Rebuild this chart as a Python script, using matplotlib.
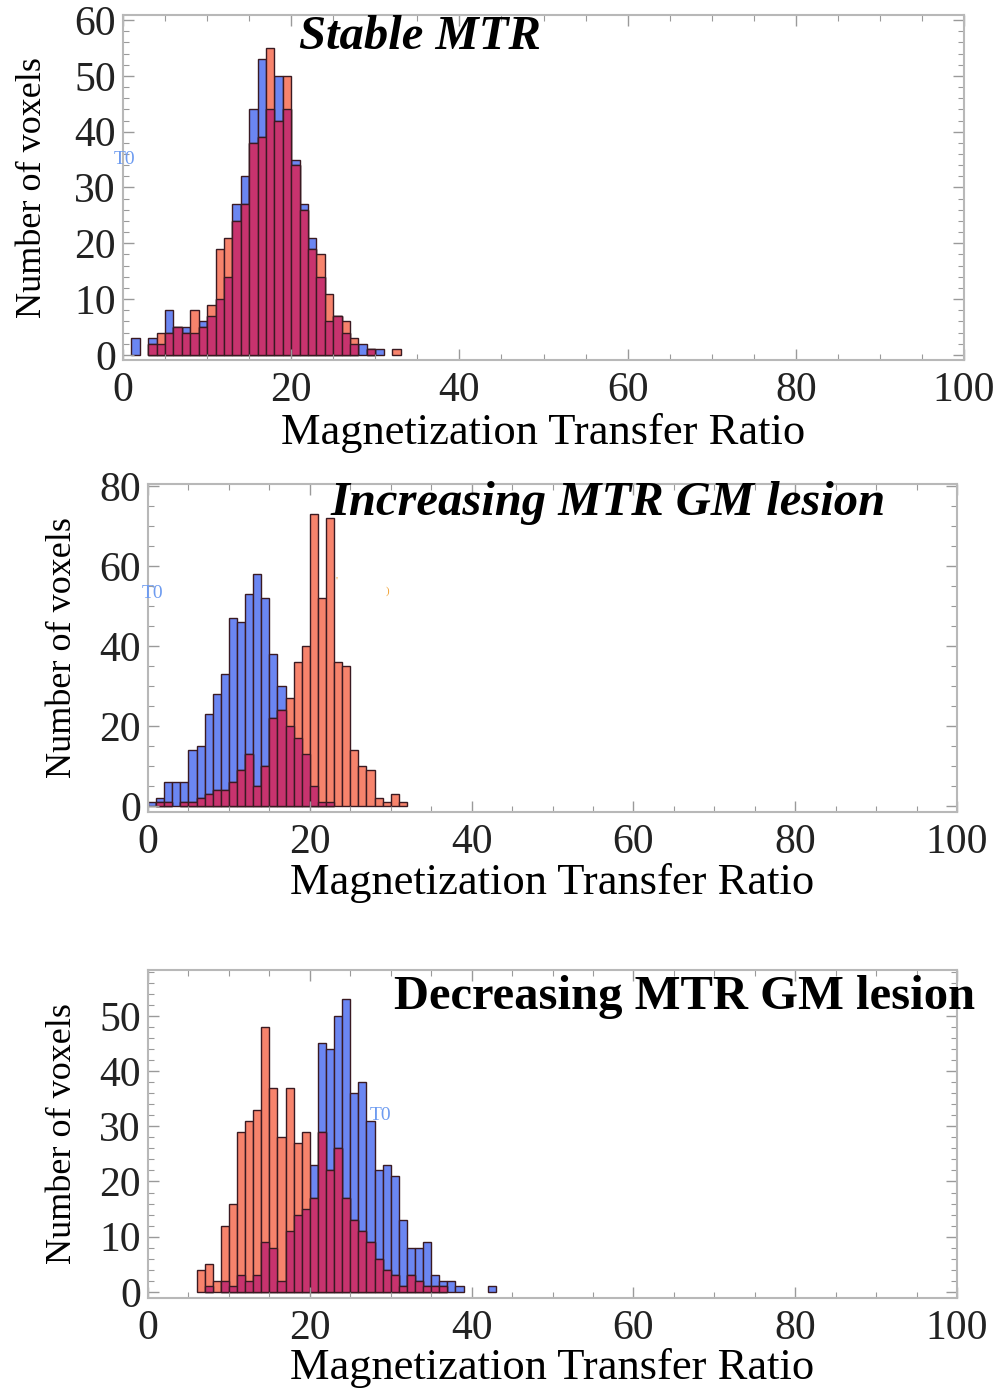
import matplotlib
matplotlib.use("Agg")
import matplotlib.pyplot as plt
from matplotlib.ticker import MultipleLocator
import numpy as np

plt.rcParams["font.family"] = ["Liberation Serif", "DejaVu Serif"]

# histogram counts, one bin per MTR unit, starting at bin 0
stable_t0 = [0, 3, 0, 3, 2, 8, 5, 5, 4, 6, 7, 10, 14, 27, 32, 44, 53, 44, 50, 44,
             35, 27, 21, 14, 6, 7, 4, 2, 2, 1, 1, 0, 0]
stable_t1 = [0, 0, 0, 2, 4, 4, 5, 4, 8, 5, 9, 19, 21, 24, 27, 38, 39, 55, 42, 50,
             34, 26, 19, 18, 11, 7, 6, 3, 0, 1, 0, 0, 1]

incr_t0 = [1, 2, 6, 6, 6, 14, 15, 23, 28, 33, 47, 46, 53, 58, 52, 38, 30, 20, 17, 13,
           5, 1, 1, 0, 0, 0, 0, 0, 0, 0, 0, 0]
incr_t1 = [0, 1, 1, 0, 1, 1, 2, 3, 4, 4, 6, 9, 13, 5, 10, 22, 24, 27, 36, 40,
           73, 52, 72, 36, 35, 14, 10, 9, 2, 1, 3, 1]

decr_t0 = [0, 0, 0, 0, 0, 0, 0, 1, 0, 2, 1, 3, 2, 3, 9, 8, 2, 11, 14, 15,
           23, 45, 44, 50, 53, 36, 38, 31, 22, 23, 21, 13, 8, 8, 9, 3, 2, 2, 1, 0,
           0, 0, 1]
decr_t1 = [0, 0, 0, 0, 0, 0, 4, 5, 2, 12, 16, 29, 31, 33, 48, 37, 28, 37, 27, 29,
           17, 29, 22, 26, 17, 13, 11, 9, 6, 4, 3, 1, 3, 2, 1, 1, 1, 0, 0, 0,
           0, 0, 0]

x_ticks = [0, 20, 40, 60, 80, 100]
xlabel = "Magnetization Transfer Ratio"
ylabel = "Number of voxels"

BLUE = "#6b86f2"
RED = "#f7836c"
MIX = "#c8336e"
EDGE = "#3a1a22"
FRAME = "#b8b8b8"

W, H = 1005, 1388
fig = plt.figure(figsize=(W / 100, H / 100), dpi=100)


def px_axes(l, t, r, b):
    return fig.add_axes([l / W, 1 - b / H, (r - l) / W, (b - t) / H])


def draw_hist(ax, t0, t1):
    t0 = np.array(t0, float)
    t1 = np.array(t1, float)
    edges = np.arange(len(t0))
    both = np.minimum(t0, t1)
    kw = dict(width=1.0, align="edge", edgecolor=EDGE, linewidth=1.0)
    m = t0 > 0
    ax.bar(edges[m], t0[m], color=BLUE, **kw)
    m = t1 > 0
    ax.bar(edges[m], t1[m], color=RED, **kw)
    m = both > 0
    ax.bar(edges[m], both[m], color=MIX, **kw)


def style(ax, ylim, ymin, yticks):
    ax.set_xlim(0, 100)
    ax.set_ylim(*ylim)
    ax.set_xticks(x_ticks)
    ax.xaxis.set_minor_locator(MultipleLocator(5))
    ax.set_yticks(yticks)
    ax.yaxis.set_minor_locator(MultipleLocator(ymin))
    for s in ax.spines.values():
        s.set_color(FRAME)
        s.set_linewidth(1.5)
    ax.tick_params(which="both", direction="in", top=True, right=True,
                   color="#9a9a9a", labelsize=30, labelcolor="#222222")
    ax.tick_params(which="major", length=8, width=1.0, pad=8)
    ax.tick_params(which="minor", length=4, width=0.8)
    ax.tick_params(axis="y", pad=5)


# ---- top: stable ----
ax1 = px_axes(123, 15, 964, 360)
draw_hist(ax1, stable_t0, stable_t1)
style(ax1, (-0.9, 60.9), 2, [0, 10, 20, 30, 40, 50, 60])
ax1.set_xlabel(xlabel, fontsize=32, va="center")
ax1.xaxis.set_label_coords(0.5, -0.212)
ax1.set_ylabel(ylabel, fontsize=26, va="center", ha="center", rotation_mode="default")
ax1.yaxis.set_label_coords(-0.108, 0.5)

# ---- middle: increasing ----
ax2 = px_axes(148, 484, 957, 812)
draw_hist(ax2, incr_t0, incr_t1)
style(ax2, (-1.5, 80.5), 5, [0, 20, 40, 60, 80])
ax2.set_xlabel(xlabel, fontsize=32, va="center")
ax2.xaxis.set_label_coords(0.5, -0.2165)
ax2.set_ylabel(ylabel, fontsize=26, va="center", ha="center", rotation_mode="default")
ax2.yaxis.set_label_coords(-0.106, 0.5)

# ---- bottom: decreasing ----
ax3 = px_axes(148, 970, 957, 1298)
draw_hist(ax3, decr_t0, decr_t1)
style(ax3, (-1.1, 58.3), 2, [0, 10, 20, 30, 40, 50])
ax3.set_xlabel(xlabel, fontsize=32, va="center")
ax3.xaxis.set_label_coords(0.5, -0.213)
ax3.set_ylabel(ylabel, fontsize=26, va="center", ha="center", rotation_mode="default")
ax3.yaxis.set_label_coords(-0.106, 0.5)

# panel titles
fig.text(420 / W, 1 - 37 / H, "Stable MTR", fontsize=35, fontweight="bold",
         fontstyle="italic", ha="center", va="center")
fig.text(608 / W, 1 - 503 / H, "Increasing MTR GM lesion", fontsize=35,
         fontweight="bold", fontstyle="italic", ha="center", va="center")
fig.text(685 / W, 1 - 997 / H, "Decreasing MTR GM lesion", fontsize=35,
         fontweight="bold", ha="center", va="center")

# stray "T0" labels
for x, y in [(124, 160), (153, 593), (380, 1116)]:
    fig.text(x / W, 1 - y / H, "T0", fontsize=14, color="#6d9bf0",
             ha="center", va="center")
fig.text(337 / W, 1 - 581 / H, "'", fontsize=8, color="#f0a030", ha="center", va="center")
fig.text(387 / W, 1 - 591 / H, ")", fontsize=8, color="#f0a030", ha="center", va="center")

fig.savefig("out.png", dpi=100)
